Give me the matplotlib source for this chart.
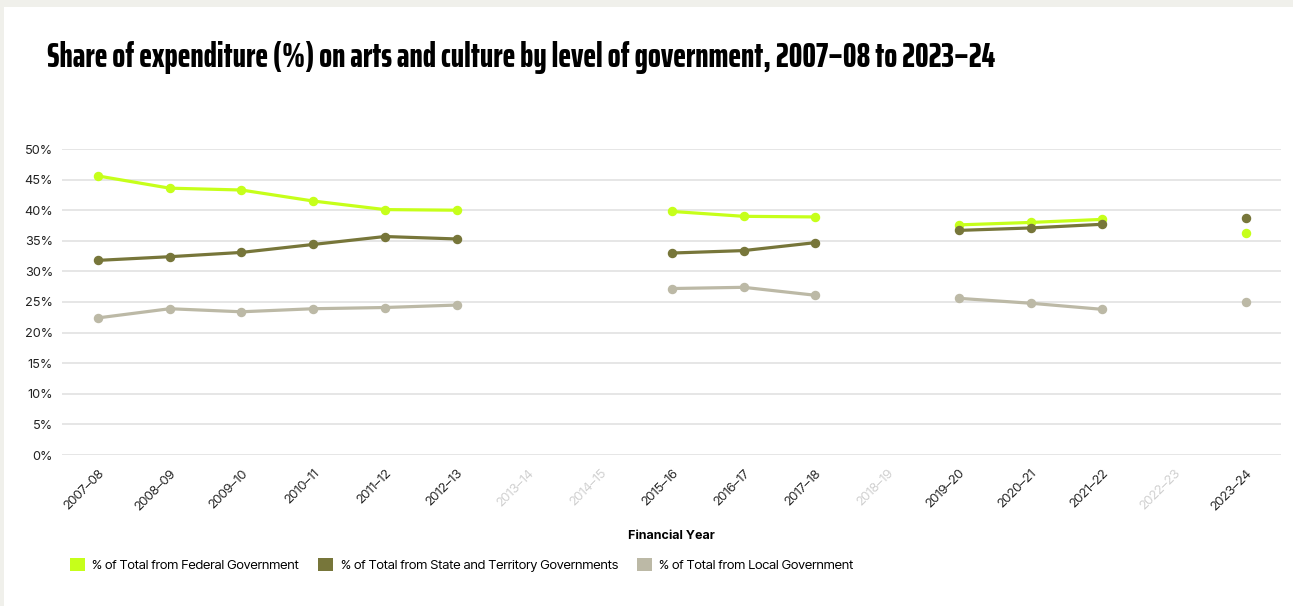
import numpy as np
import matplotlib.pyplot as plt
from matplotlib.patches import Rectangle, Patch
from matplotlib.transforms import ScaledTranslation

# financial years (en dash)
years = ['2007–08', '2008–09', '2009–10', '2010–11', '2011–12', '2012–13', '2013–14',
         '2014–15', '2015–16', '2016–17', '2017–18', '2018–19', '2019–20', '2020–21',
         '2021–22', '2022–23', '2023–24']
missing = ['2013–14', '2014–15', '2018–19', '2022–23']

nan = np.nan
federal = [45.6, 43.6, 43.3, 41.5, 40.1, 40.0, nan, nan, 39.8, 39.0, 38.9, nan, 37.6, 38.0, 38.5, nan, 36.2]
state = [31.8, 32.4, 33.1, 34.4, 35.7, 35.3, nan, nan, 33.0, 33.4, 34.7, nan, 36.7, 37.1, 37.7, nan, 38.8]
local = [22.4, 23.9, 23.4, 23.9, 24.1, 24.5, nan, nan, 27.2, 27.4, 26.1, nan, 25.6, 24.8, 23.8, nan, 25.0]

labels = ['% of Total from Federal Government',
          '% of Total from State and Territory Governments',
          '% of Total from Local Government']
colors = ['#c6ff1a', '#77763a', '#bcb9a6']

txt_font = 'Inter Tight'
W, H = 1293, 606
fig = plt.figure(figsize=(W / 100, H / 100), dpi=100)
fig.patch.set_facecolor('#f0f0eb')
fig.patches.append(Rectangle((4 / W, 0), 1, 1 - 7 / H, transform=fig.transFigure,
                             facecolor='white', edgecolor='none', zorder=-5))

ax = fig.add_axes([62 / W, (H - 455) / H, (1281 - 62) / W, (455 - 149) / H])
ax.set_facecolor('none')

x = np.arange(len(years))
for vals, c in zip([federal, state, local], colors):
    ax.plot(x, vals, color=c, lw=2.3, marker='o', ms=5.8, solid_capstyle='round', zorder=3)

ax.set_ylim(0, 50)
ax.set_yticks(range(0, 51, 5))
ax.set_yticklabels([f'{v}%' for v in range(0, 51, 5)], fontsize=9.2, family='Inter', color='#222222')
ax.set_xlim(-0.50, 16.49)
ax.set_xticks(x)
ax.set_xticklabels(years, rotation=45, ha='right', rotation_mode='anchor',
                   fontsize=9.5, family=txt_font)
shift = ScaledTranslation(-0.09, 0, fig.dpi_scale_trans)
for lab in ax.get_xticklabels():
    lab.set_color('#cfcfcf' if lab.get_text() in missing else '#222222')
    lab.set_transform(lab.get_transform() + shift)

ax.grid(axis='y', color='#e2e2e2', lw=1.2)
ax.tick_params(length=0)
ax.tick_params(axis='y', pad=6.5)
ax.tick_params(axis='x', pad=9)
for s in ax.spines.values():
    s.set_visible(False)

ax.set_xlabel('Financial Year', fontsize=9, fontweight='bold', family='Inter', labelpad=12)

title = fig.text(47 / W, 1 - 57 / H,
                 'Share of expenditure (%) on arts and culture by level of government, 2007–08 to 2023–24',
                 fontsize=26, fontweight=800, family='Saira ExtraCondensed', va='center', ha='left')
# fit title width to the reference (~948 px)
fig.canvas.draw()
tw = title.get_window_extent().width
title.set_fontsize(26 * 948 / tw)

handles = [Patch(facecolor=c, edgecolor='none') for c in colors]
fig.legend(handles, labels, loc='center left', bbox_to_anchor=(58 / W, 1 - 565 / H), ncol=3,
           frameon=False, prop={'family': txt_font, 'size': 9.5}, handlelength=1.15, handleheight=1.15,
           handletextpad=0.55, columnspacing=1.45)

fig.savefig('out.png', dpi=100, facecolor=fig.get_facecolor())
